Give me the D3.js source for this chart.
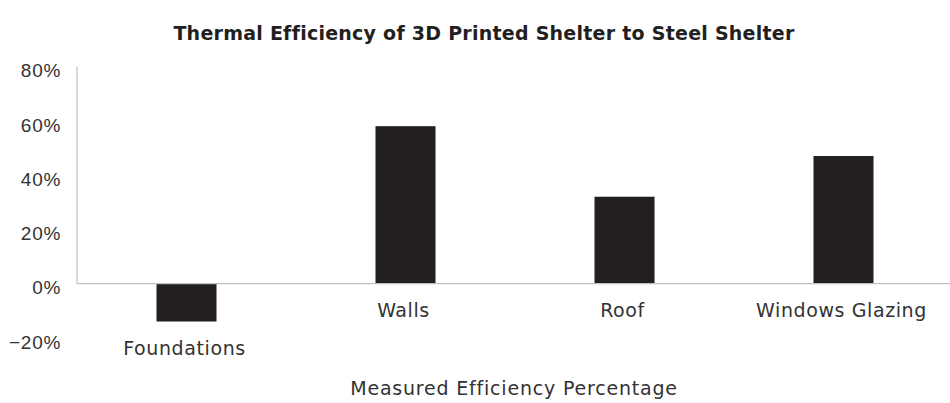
<!DOCTYPE html>
<meta charset="utf-8">
<style>
body { margin: 0; background: #fff; }
svg { font-family: "DejaVu Sans", sans-serif; }
.tick text { fill: #333; font-size: 19px; letter-spacing: 0.7px; }
</style>
<svg width="950" height="403"></svg>
<script src="https://cdnjs.cloudflare.com/ajax/libs/d3/7.8.5/d3.min.js"></script>
<script>

var categories = ["Foundations", "Walls", "Roof", "Windows Glazing"],
    values = [-14, 58, 32, 47],
    yTicks = [-20, 0, 20, 40, 60, 80];

var title = "Thermal Efficiency of 3D Printed Shelter to Steel Shelter",
    xTitle = "Measured Efficiency Percentage";

var svg = d3.select("svg"),
    width = +svg.attr("width"),
    height = +svg.attr("height");

var x = d3.scaleBand()
    .domain(categories)
    .range([77, 953])
    .paddingInner(0.726)
    .paddingOuter(0.363);

var y = d3.scaleLinear()
    .domain([-20, 80])
    .range([337.8, 66.5]);

// bars
svg.selectAll("rect.bar")
  .data(values)
  .enter().append("rect")
    .attr("class", "bar")
    .attr("x", function(d, i) { return x(categories[i]); })
    .attr("y", function(d) { return y(Math.max(0, d)); })
    .attr("width", x.bandwidth())
    .attr("height", function(d) { return Math.abs(y(d) - y(0)); })
    .attr("fill", "#231f20");

// axis lines
svg.append("line")
    .attr("x1", 77).attr("x2", 77)
    .attr("y1", y(80)).attr("y2", y(0))
    .attr("stroke", "#bfbfbf").attr("stroke-width", 1.2);

svg.append("line")
    .attr("x1", 77).attr("x2", width)
    .attr("y1", y(0)).attr("y2", y(0))
    .attr("stroke", "#bfbfbf").attr("stroke-width", 1.2);

// y tick labels
var yAxis = svg.append("g")
    .attr("transform", "translate(61,0)")
    .call(d3.axisLeft(y)
      .tickValues(yTicks)
      .tickSize(0)
      .tickPadding(0)
      .tickFormat(function(d) { return (d < 0 ? "\u2212" + (-d) : d) + "%"; }));
yAxis.select(".domain").remove();
yAxis.selectAll("text").attr("dy", "0.55em");

// category labels, placed under the lower end of each bar
svg.selectAll("text.cat")
  .data(values)
  .enter().append("text")
    .attr("class", "cat")
    .attr("x", function(d, i) { return x(categories[i]) + x.bandwidth() / 2 - 2; })
    .attr("y", function(d) { return y(Math.min(0, d)) + 33; })
    .attr("text-anchor", "middle")
    .attr("font-size", 19)
    .attr("letter-spacing", 0.6)
    .attr("fill", "#333")
    .text(function(d, i) { return categories[i]; });

// titles
svg.append("text")
    .attr("x", 484)
    .attr("y", 40)
    .attr("text-anchor", "middle")
    .attr("font-size", 19)
    .attr("letter-spacing", 0.25)
    .attr("font-weight", "bold")
    .attr("fill", "#231f20")
    .text(title);

svg.append("text")
    .attr("x", 514)
    .attr("y", 395)
    .attr("text-anchor", "middle")
    .attr("font-size", 19)
    .attr("letter-spacing", 0.8)
    .attr("fill", "#333")
    .text(xTitle);

</script>
